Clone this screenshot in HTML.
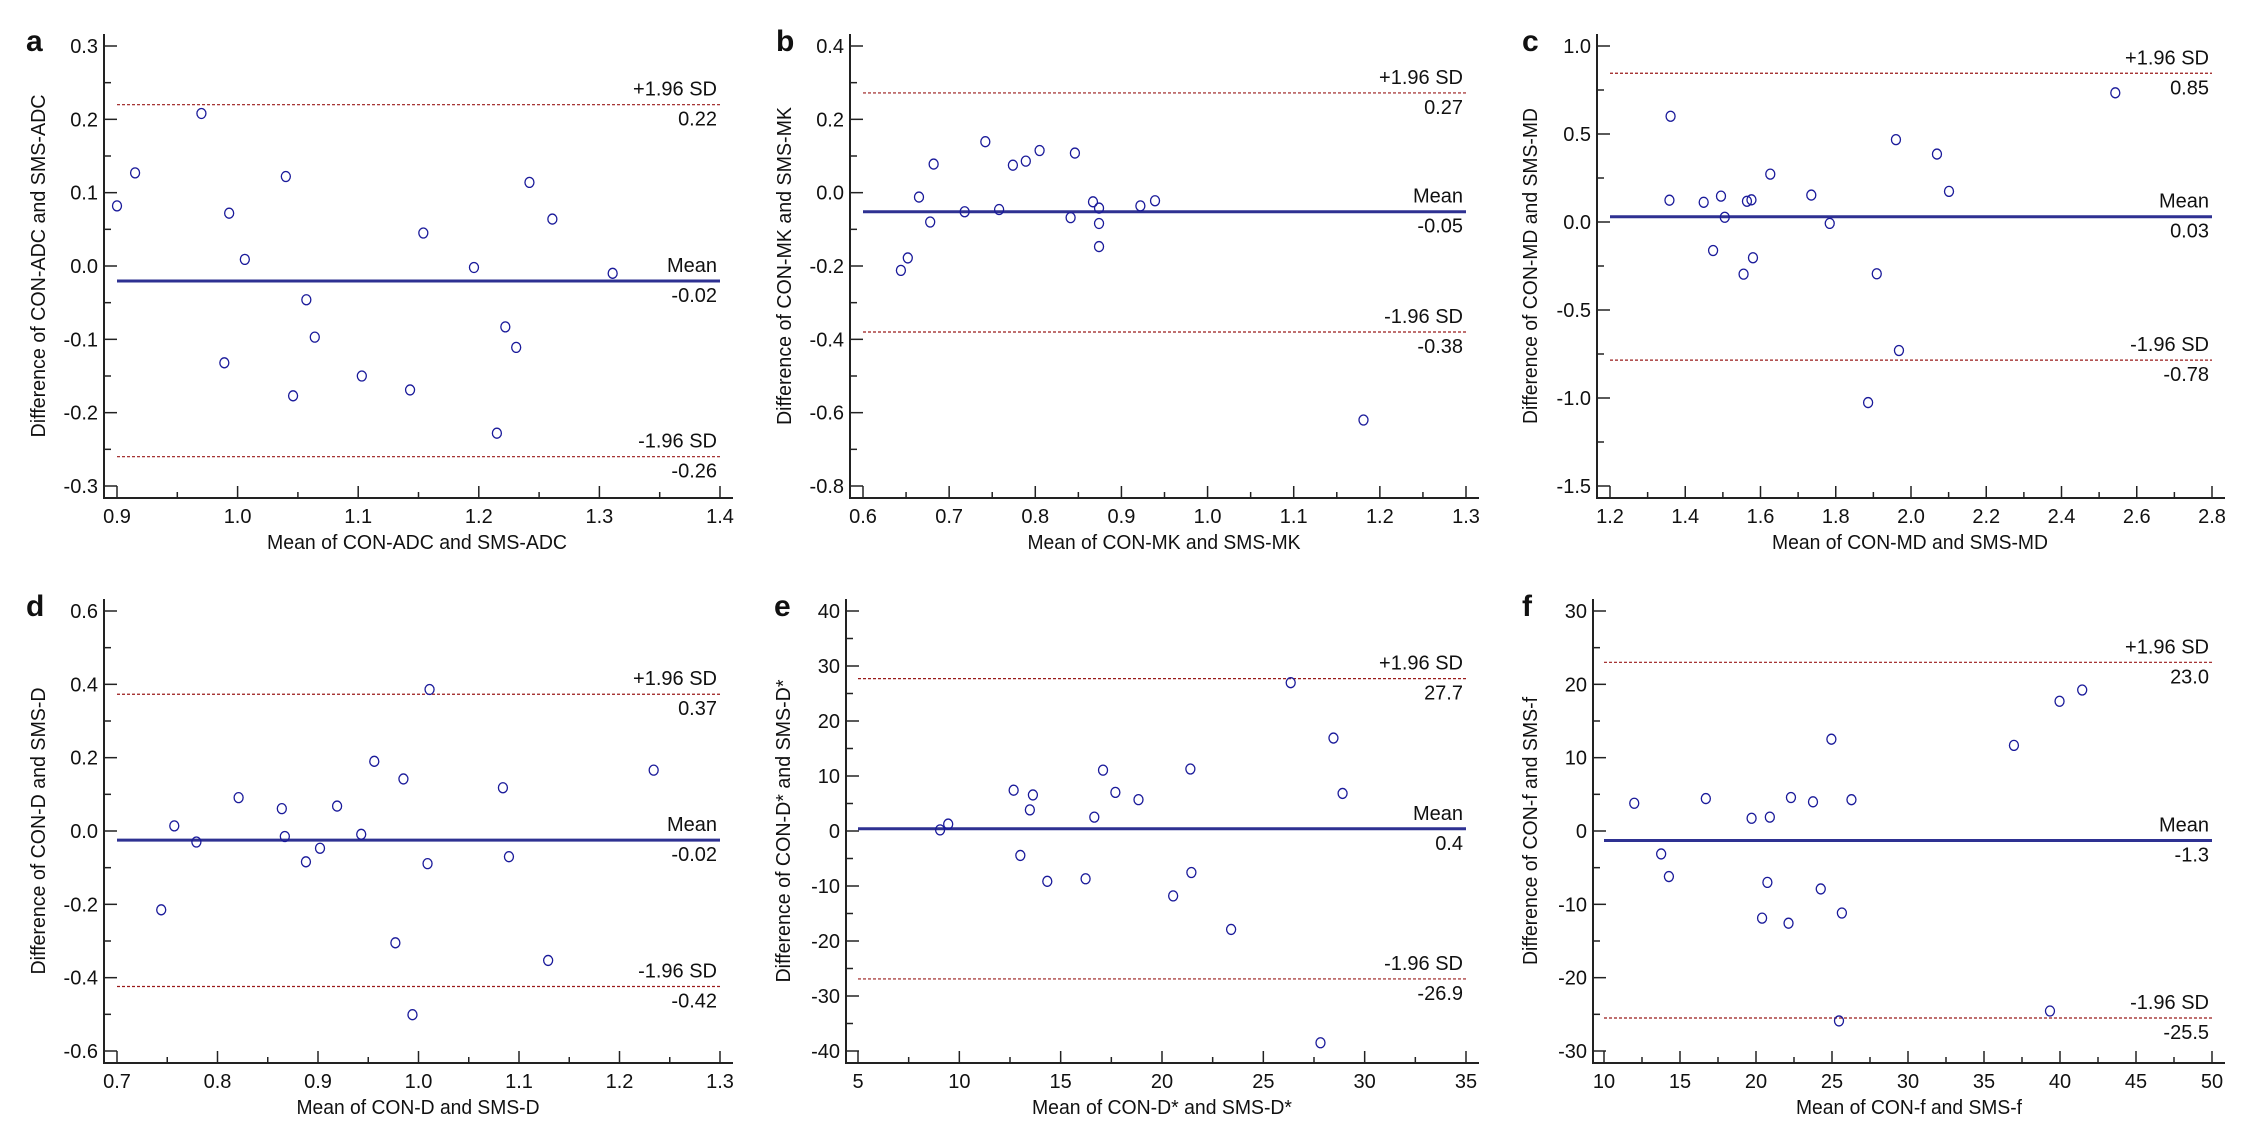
<!DOCTYPE html>
<html><head><meta charset="utf-8"><style>
html,body{margin:0;padding:0;background:#fff;}
svg{display:block;font-family:"Liberation Sans",sans-serif;}
</style></head><body>
<svg id="fig" width="2248" height="1138" viewBox="0 0 2248 1138" xmlns="http://www.w3.org/2000/svg"></svg>
<script>
// Panel data (x = mean, y = difference)
const aX=[0.900,0.915,0.970,0.993,0.989,1.006,1.040,1.046,1.057,1.064,1.103,1.143,1.154,1.196,1.215,1.222,1.231,1.242,1.261,1.311];
const aY=[0.082,0.127,0.208,0.072,-0.132,0.009,0.122,-0.177,-0.046,-0.097,-0.150,-0.169,0.045,-0.002,-0.228,-0.083,-0.111,0.114,0.064,-0.010];
const aLines=[0.22,-0.0204,-0.26];
const aLineLabels=["0.22","-0.02","-0.26"];
const bX=[0.644,0.652,0.665,0.678,0.682,0.718,0.742,0.758,0.774,0.789,0.805,0.841,0.846,0.867,0.874,0.874,0.874,0.922,0.939,1.181];
const bY=[-0.212,-0.178,-0.012,-0.080,0.078,-0.052,0.139,-0.046,0.075,0.086,0.115,-0.068,0.108,-0.025,-0.042,-0.084,-0.147,-0.036,-0.022,-0.620];
const bLines=[0.272,-0.052,-0.38];
const bLineLabels=["0.27","-0.05","-0.38"];
const cX=[1.361,1.358,1.449,1.495,1.505,1.474,1.555,1.564,1.576,1.580,1.626,1.735,1.784,1.886,1.909,1.960,1.968,2.069,2.101,2.543];
const cY=[0.601,0.124,0.112,0.147,0.027,-0.162,-0.296,0.118,0.126,-0.203,0.272,0.153,-0.008,-1.026,-0.294,0.468,-0.730,0.386,0.174,0.734];
const cLines=[0.845,0.03,-0.785];
const cLineLabels=["0.85","0.03","-0.78"];
const dX=[0.744,0.757,0.779,0.821,0.864,0.867,0.888,0.902,0.919,0.943,0.956,0.977,0.985,0.994,1.009,1.011,1.084,1.090,1.129,1.234];
const dY=[-0.215,0.014,-0.030,0.091,0.061,-0.015,-0.084,-0.047,0.068,-0.009,0.190,-0.305,0.142,-0.501,-0.089,0.386,0.118,-0.070,-0.353,0.166];
const dLines=[0.373,-0.025,-0.424];
const dLineLabels=["0.37","-0.02","-0.42"];
const eX=[9.05,9.45,12.68,13.01,13.48,13.63,14.34,16.23,16.66,17.09,17.70,18.84,20.55,21.40,21.45,23.41,26.35,27.82,28.46,28.91];
const eY=[0.2,1.26,7.42,-4.44,3.84,6.56,-9.15,-8.68,2.52,11.07,7.02,5.70,-11.80,11.27,-7.55,-17.9,26.97,-38.5,16.9,6.83];
const eLines=[27.7,0.4,-26.9];
const eLineLabels=["27.7","0.4","-26.9"];
const fX=[11.99,13.76,14.27,16.70,19.71,20.40,20.75,20.91,22.14,22.30,23.75,24.26,24.96,25.46,25.65,26.28,36.97,39.34,39.97,41.46];
const fY=[3.78,-3.13,-6.21,4.42,1.74,-11.88,-7.01,1.89,-12.57,4.57,3.98,-7.90,12.52,-25.9,-11.18,4.27,11.68,-24.55,17.69,19.23];
const fLines=[23.0,-1.3,-25.5];
const fLineLabels=["23.0","-1.3","-25.5"];
const aXTicks=["0.9","1.0","1.1","1.2","1.3","1.4"], aYTicks=["0.3","0.2","0.1","0.0","-0.1","-0.2","-0.3"];
const bXTicks=["0.6","0.7","0.8","0.9","1.0","1.1","1.2","1.3"], bYTicks=["0.4","0.2","0.0","-0.2","-0.4","-0.6","-0.8"];
const cXTicks=["1.2","1.4","1.6","1.8","2.0","2.2","2.4","2.6","2.8"], cYTicks=["1.0","0.5","0.0","-0.5","-1.0","-1.5"];
const dXTicks=["0.7","0.8","0.9","1.0","1.1","1.2","1.3"], dYTicks=["0.6","0.4","0.2","0.0","-0.2","-0.4","-0.6"];
const eXTicks=["5","10","15","20","25","30","35"], eYTicks=["40","30","20","10","0","-10","-20","-30","-40"];
const fXTicks=["10","15","20","25","30","35","40","45","50"], fYTicks=["30","20","10","0","-10","-20","-30"];

const NS="http://www.w3.org/2000/svg";
const svg=document.getElementById('fig');
function mk(tag,attrs,parent){const e=document.createElementNS(NS,tag);for(const k in attrs)e.setAttribute(k,attrs[k]);(parent||svg).appendChild(e);return e;}

const panels=[
 {id:'a',ox:0,oy:0,ax:104,x0:117,x1:720,xr:733,yt:46,yb:486,xa:498,top:34,X:aX,Y:aY,L:aLines,LL:aLineLabels,xt:aXTicks,yt2:aYTicks,xmin:0.9,xmax:1.4,ymin:-0.3,ymax:0.3,xm:0.05,ym:0.05,xtitle:"Mean of CON-ADC and SMS-ADC",xtw:300,xtc:417,ytitle:"Difference of CON-ADC and SMS-ADC",ytw:343,ytx:38},
 {id:'b',ox:750,oy:0,ax:100,x0:113,x1:716,xr:729,yt:46,yb:486,xa:498,top:34,X:bX,Y:bY,L:bLines,LL:bLineLabels,xt:bXTicks,yt2:bYTicks,xmin:0.6,xmax:1.3,ymin:-0.8,ymax:0.4,xm:0.05,ym:0.1,xtitle:"Mean of CON-MK and SMS-MK",xtw:273,xtc:414,ytitle:"Difference of CON-MK and SMS-MK",ytw:318,ytx:34},
 {id:'c',ox:1498,oy:0,ax:99,x0:112,x1:714,xr:727,yt:46,yb:486,xa:498,top:34,X:cX,Y:cY,L:cLines,LL:cLineLabels,xt:cXTicks,yt2:cYTicks,xmin:1.2,xmax:2.8,ymin:-1.5,ymax:1.0,xm:0.1,ym:0.25,xtitle:"Mean of CON-MD and SMS-MD",xtw:276,xtc:412,ytitle:"Difference of CON-MD and SMS-MD",ytw:316,ytx:32},
 {id:'d',ox:0,oy:569,ax:104,x0:117,x1:720,xr:733,yt:42,yb:482,xa:494,top:30,X:dX,Y:dY,L:dLines,LL:dLineLabels,xt:dXTicks,yt2:dYTicks,xmin:0.7,xmax:1.3,ymin:-0.6,ymax:0.6,xm:0.05,ym:0.1,xtitle:"Mean of CON-D and SMS-D",xtw:243,xtc:418,ytitle:"Difference of CON-D and SMS-D",ytw:287,ytx:38},
 {id:'e',ox:750,oy:569,ax:96,x0:108,x1:716,xr:729,yt:42,yb:482,xa:494,top:30,X:eX,Y:eY,L:eLines,LL:eLineLabels,xt:eXTicks,yt2:eYTicks,xmin:5,xmax:35,ymin:-40,ymax:40,xm:2.5,ym:5,xtitle:"Mean of CON-D* and SMS-D*",xtw:260,xtc:412,ytitle:"Difference of CON-D* and SMS-D*",ytw:303,ytx:33},
 {id:'f',ox:1498,oy:569,ax:95,x0:106,x1:714,xr:727,yt:42,yb:482,xa:494,top:30,X:fX,Y:fY,L:fLines,LL:fLineLabels,xt:fXTicks,yt2:fYTicks,xmin:10,xmax:50,ymin:-30,ymax:30,xm:2.5,ym:5,xtitle:"Mean of CON-f and SMS-f",xtw:226,xtc:411,ytitle:"Difference of CON-f and SMS-f",ytw:268,ytx:32}
];

panels.forEach(p=>{
  const g=mk('g',{transform:`translate(${p.ox},${p.oy})`});
  
  
  const sx=v=>p.x0+(v-p.xmin)/(p.xmax-p.xmin)*(p.x1-p.x0);
  const sy=v=>p.yb-(v-p.ymin)/(p.ymax-p.ymin)*(p.yb-p.yt);
  const lt=mk('text',{x:p.id==='c'||p.id==='e'||p.id==='f'?24:26,y:p.oy?47:51,'font-size':30,'font-weight':'bold',fill:'#111'},g);
  lt.textContent=p.id;
  
  
  // axes
  const axes=mk('path',{d:`M${p.ax},${p.top}V${p.xa}H${p.xr}`,stroke:'#222',fill:'none','stroke-width':2},g);
  
  
  // x ticks
  const nx=Math.round((p.xmax-p.xmin)/p.xm);
  for(let i=0;i<=nx;i++){
    const v=p.xmin+i*p.xm, X=sx(v), major=(i%2===0);
    mk('line',{x1:X,x2:X,y1:p.xa,y2:p.xa-(major?12:6),stroke:'#222','stroke-width':1.5},g);
  }
  p.xt.forEach((t,i)=>{
    const v=p.xmin+i*2*p.xm;
    const tx=mk('text',{x:sx(v),y:p.xa+25,'font-size':20,'text-anchor':'middle',fill:'#111'},g);
    tx.textContent=t;
    
    
  });
  const ny=Math.round((p.ymax-p.ymin)/p.ym);
  const ystep=(p.ymax-p.ymin)/(p.yt2.length-1);
  for(let i=0;i<=ny;i++){
    const v=p.ymin+i*p.ym, Y=sy(v);
    const major=Math.abs(((v-p.ymin)/ystep)-Math.round((v-p.ymin)/ystep))<1e-6;
    mk('line',{x1:p.ax,x2:p.ax+(major?13:7),y1:Y,y2:Y,stroke:'#222','stroke-width':1.5},g);
  }
  p.yt2.forEach((t,i)=>{
    const v=p.ymax-i*ystep;
    const ty=mk('text',{x:p.ax-6,y:sy(v)+7,'font-size':20,'text-anchor':'end',fill:'#111'},g);
    ty.textContent=t;
    
    
  });
  // titles
  const xt=mk('text',{x:p.xtc,y:p.xa+51,'font-size':20,'text-anchor':'middle',textLength:p.xtw,lengthAdjust:'spacingAndGlyphs',fill:'#111'},g);
  xt.textContent=p.xtitle;
  
  
  const yc=(p.yt+p.yb)/2;
  const yt=mk('text',{x:0,y:0,'font-size':20,'text-anchor':'middle',textLength:p.ytw,lengthAdjust:'spacingAndGlyphs',fill:'#111',transform:`translate(${p.ytx+7},${yc}) rotate(-90)`},g);
  yt.textContent=p.ytitle;
  
  
  // reference lines
  const names=['upper-loa-line','mean-line','lower-loa-line'];
  const tops=['+1.96 SD','Mean','-1.96 SD'];
  p.L.forEach((v,i)=>{
    const Y=sy(v);
    const ln=mk('line',{x1:p.x0,x2:p.x1,y1:Y,y2:Y,stroke:i===1?'#2e3192':'#9a1a1a','stroke-width':i===1?3:1.2,'stroke-dasharray':i===1?'none':'3,2'},g);
    
    
    const t1=mk('text',{x:p.x1-3,y:Y-9,'font-size':20,'text-anchor':'end',fill:'#111'},g);
    t1.textContent=tops[i];
    
    
    const t2=mk('text',{x:p.x1-3,y:Y+21,'font-size':20,'text-anchor':'end',fill:'#111'},g);
    t2.textContent=p.LL[i];
    
    
  });
  // points
  p.X.forEach((v,i)=>{
    const c=mk('ellipse',{cx:sx(v),cy:sy(p.Y[i]),rx:4.5,ry:5,fill:'none',stroke:'#1a1a9a','stroke-width':1.3},g);
    
    
  });
});
</script>
</body></html>
